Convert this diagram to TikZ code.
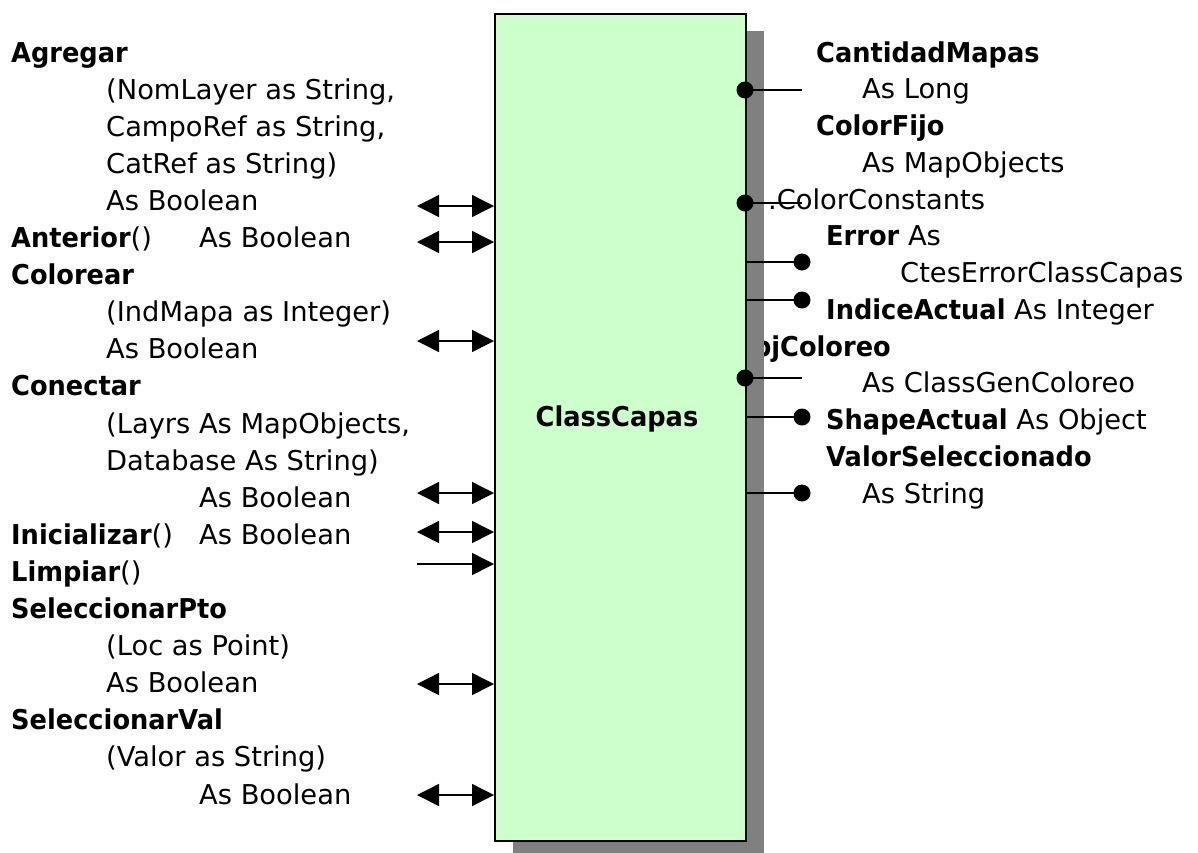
\documentclass[tikz,border=0pt]{standalone}
\usepackage{fontspec}
\setmainfont{DejaVu Sans}[BoldFeatures={FakeStretch=0.94}]
\usetikzlibrary{arrows.meta}
\definecolor{boxfill}{HTML}{CCFFCC}
\definecolor{shadowgray}{HTML}{808080}
\tikzset{
  txt/.style={anchor=base west, inner sep=0pt, font=\fontsize{27.3}{37}\selectfont},
  classbox/.style={draw=black, line width=2pt, fill=boxfill, inner sep=0pt,
    minimum width=251pt, minimum height=827pt, anchor=north west},
  biarrow/.style={line width=1.5pt, {Triangle[length=22pt,width=22pt]}-{Triangle[length=22pt,width=22pt]}},
  inarrow/.style={line width=1.5pt, -{Triangle[length=22pt,width=22pt]}},
  link/.style={line width=1.5pt},
  dot/.style={fill=black},
}
\begin{document}
\begin{tikzpicture}[x=1pt,y=-1pt]
\useasboundingbox (0,0) rectangle (1198,852);

% methods (left column)
\def\lp{37.1}
\node[txt] (m0)  at (11,{62+0*\lp})  {\textbf{Agregar}};
\node[txt] (m1)  at (106,{62+1*\lp}) {(NomLayer as String,};
\node[txt] (m2)  at (106,{62+2*\lp}) {CampoRef as String,};
\node[txt] (m3)  at (106,{62+3*\lp}) {CatRef as String)};
\node[txt] (m4)  at (106,{62+4*\lp}) {As Boolean};
\node[txt] (m5)  at (11,{62+5*\lp})  {\textbf{Anterior}()};
\node[txt] (m5b) at (199,{62+5*\lp}) {As Boolean};
\node[txt] (m6)  at (11,{62+6*\lp})  {\textbf{Colorear}};
\node[txt] (m7)  at (106,{62+7*\lp}) {(IndMapa as Integer)};
\node[txt] (m8)  at (106,{62+8*\lp}) {As Boolean};
\node[txt] (m9)  at (11,{62+9*\lp})  {\textbf{Conectar}};
\node[txt] (m10) at (106,{62+10*\lp}) {(Layrs As MapObjects,};
\node[txt] (m11) at (106,{62+11*\lp}) {Database As String)};
\node[txt] (m12) at (199,{62+12*\lp}) {As Boolean};
\node[txt] (m13) at (11,{62+13*\lp})  {\textbf{Inicializar}()};
\node[txt] (m13b) at (199,{62+13*\lp}) {As Boolean};
\node[txt] (m14) at (11,{62+14*\lp})  {\textbf{Limpiar}()};
\node[txt] (m15) at (11,{62+15*\lp})  {\textbf{SeleccionarPto}};
\node[txt] (m16) at (106,{62+16*\lp}) {(Loc as Point)};
\node[txt] (m17) at (106,{62+17*\lp}) {As Boolean};
\node[txt] (m18) at (11,{62+18*\lp})  {\textbf{SeleccionarVal}};
\node[txt] (m19) at (106,{62+19*\lp}) {(Valor as String)};
\node[txt] (m20) at (199,{62+20*\lp}) {As Boolean};

% properties (right column)
\def\rp{36.75}
\node[txt] (p0)  at (816,{62+0*\rp})  {\textbf{CantidadMapas}};
\node[txt] (p1)  at (862,{62+1*\rp})  {As Long};
\node[txt] (p2)  at (816,{62+2*\rp})  {\textbf{ColorFijo}};
\node[txt] (p3)  at (862,{62+3*\rp})  {As MapObjects};
\node[txt] (p4)  at (768,{62+4*\rp})  {.ColorConstants};
\node[txt] (p5)  at (826,{62+5*\rp})  {\textbf{Error} As};
\node[txt] (p6)  at (900,{62+6*\rp})  {CtesErrorClassCapas};
\node[txt] (p7)  at (826,{62+7*\rp})  {\textbf{IndiceActual} As Integer};
\node[txt] (p8)  at (731,{62+8*\rp})  {\textbf{ObjColoreo}};
\node[txt] (p9)  at (862,{62+9*\rp})  {As ClassGenColoreo};
\node[txt] (p10) at (826,{62+10*\rp}) {\textbf{ShapeActual} As Object};
\node[txt] (p11) at (826,{62+11*\rp}) {\textbf{ValorSeleccionado}};
\node[txt] (p12) at (862,{62+12*\rp}) {As String};

% class box with its drop shadow
\fill[shadowgray] (513,31) rectangle (764,860);
\node[classbox] (box) at (494,13) {};
\node[anchor=base, inner sep=0pt, font=\fontsize{27.3}{37}\selectfont\bfseries] (cls) at (617,426) {ClassCapas};

% method connectors
\foreach \y [count=\i] in {206,242,341,493,532,684,795} {
  \coordinate (a\i) at (417,\y);
  \draw[biarrow] (a\i) -- (a\i -| box.west);
}
\coordinate (lim) at (417,564);
\draw[inarrow] (lim) -- (lim -| box.west);

% property connectors: dot on the box edge
\foreach \y [count=\i] in {90,203,378} {
  \coordinate (e\i) at (802,\y);
  \coordinate (s\i) at ([xshift=-2pt]e\i -| box.east);
  \draw[link] (s\i) -- (e\i);
  \fill[dot] (s\i) circle (8.5);
}
% property connectors: dot at the free end
\foreach \y [count=\i] in {262,300,417,493} {
  \coordinate (f\i) at (802,\y);
  \draw[link] (f\i -| box.east) -- (f\i);
  \fill[dot] (f\i) circle (8.5);
}
\end{tikzpicture}
\end{document}
